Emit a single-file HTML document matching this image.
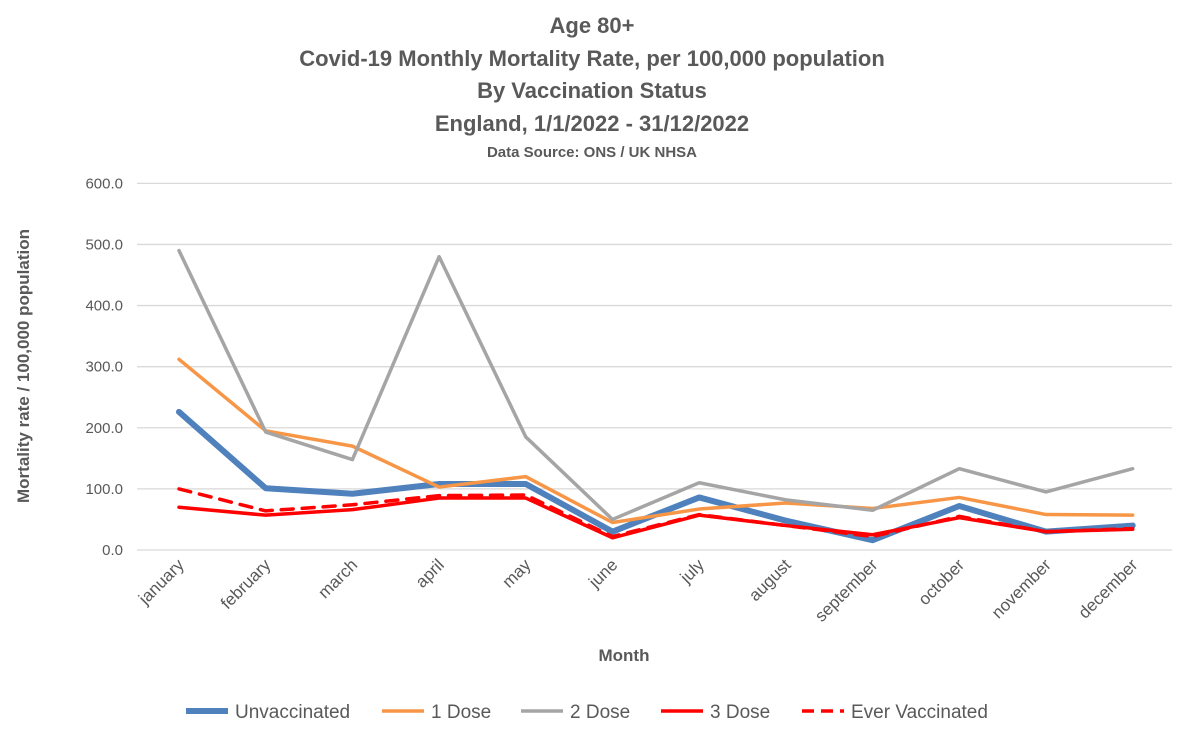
<!DOCTYPE html>
<html><head><meta charset="utf-8"><style>
body{margin:0;background:#fff;}
svg text{font-family:"Liberation Sans",sans-serif;}
</style></head><body>
<svg id="chart" width="1178" height="743" xmlns="http://www.w3.org/2000/svg">
<g fill="#595959" font-weight="bold" text-anchor="middle">
<text x="592" y="33" font-size="22">Age 80+</text>
<text x="592" y="66" font-size="22">Covid-19 Monthly Mortality Rate, per 100,000 population</text>
<text x="592" y="98" font-size="22">By Vaccination Status</text>
<text x="592" y="131" font-size="22">England, 1/1/2022 - 31/12/2022</text>
<text x="592" y="157" font-size="15">Data Source: ONS / UK NHSA</text>
</g>
<g id="grid"></g>
<g id="yticks"></g>
<g id="xticks"></g>
<g id="series"></g>
<text x="624" y="661" font-size="17" font-weight="bold" fill="#595959" text-anchor="middle">Month</text>
<text transform="translate(29,366) rotate(-90)" font-size="17" font-weight="bold" fill="#595959" text-anchor="middle">Mortality rate / 100,000 population</text>
<g font-size="19" fill="#595959">
<g><line x1="186" y1="711" x2="228" y2="711" stroke="#4f81bd" stroke-width="6"/><text x="235" y="718">Unvaccinated</text></g>
<g><line x1="382" y1="711" x2="424" y2="711" stroke="#f79646" stroke-width="3.5"/><text x="431" y="718">1 Dose</text></g>
<g><line x1="521" y1="711" x2="563" y2="711" stroke="#a5a5a5" stroke-width="3.5"/><text x="570" y="718">2 Dose</text></g>
<g><line x1="661" y1="711" x2="703" y2="711" stroke="#ff0000" stroke-width="3.5"/><text x="710" y="718">3 Dose</text></g>
<g><line x1="802" y1="711" x2="844" y2="711" stroke="#ff0000" stroke-width="3.5" stroke-dasharray="12,7"/><text x="851" y="718">Ever Vaccinated</text></g>
</g>
</svg>
<script>
const months=["january","february","march","april","may","june","july","august","september","october","november","december"];
const yTicks=[0,100,200,300,400,500,600];
const unvaccinated=[226,101,92,108,108,30,86,48,16,72,30,40];
const dose1=[312,195,170,103,120,45,67,77,68,86,58,57];
const dose2=[490,193,148,480,185,50,110,82,65,133,95,133];
const dose3=[70,57,66,85,85,20,57,40,25,53,30,34];
const everVacc=[100,64,74,89,90,22,58,40,22,55,30,35];
const NS="http://www.w3.org/2000/svg";
const x=i=>179+i*86.7;
const y=v=>550-v*0.6111;
function mk(tag,attrs,parent){const e=document.createElementNS(NS,tag);for(const k in attrs)e.setAttribute(k,attrs[k]);parent.appendChild(e);return e;}
const grid=document.getElementById('grid'),yt=document.getElementById('yticks'),xt=document.getElementById('xticks'),ser=document.getElementById('series');
yTicks.forEach(v=>{
 const l=mk('line',{x1:137,x2:1172,y1:y(v),y2:y(v),stroke:'#d9d9d9','stroke-width':1.3},grid);
 
 
 const t=mk('text',{x:123,y:y(v)+5,'font-size':15,fill:'#595959','text-anchor':'end'},yt);
 t.textContent=v.toFixed(1);
 
 
});
months.forEach((m,i)=>{
 const t=mk('text',{transform:`translate(${x(i)+6},${566}) rotate(-45)`,'font-size':17,fill:'#595959','text-anchor':'end'},xt);
 t.textContent=m;
 
 
});
function line(data,color,w,name,dash){
 const p=mk('polyline',{points:data.map((v,i)=>x(i)+','+y(v)).join(' '),fill:'none',stroke:color,'stroke-width':w,'stroke-linejoin':'round','stroke-linecap':'round'},ser);
 if(dash)p.setAttribute('stroke-dasharray',dash);
 
 
}
line(unvaccinated,'#4f81bd',6,'unvaccinated-line');
line(dose1,'#f79646',3.5,'dose1-line');
line(dose2,'#a5a5a5',3.5,'dose2-line');
line(dose3,'#ff0000',3.5,'dose3-line');
line(everVacc,'#ff0000',3.5,'ever-vaccinated-line','12,9');
</script>
</body></html>
